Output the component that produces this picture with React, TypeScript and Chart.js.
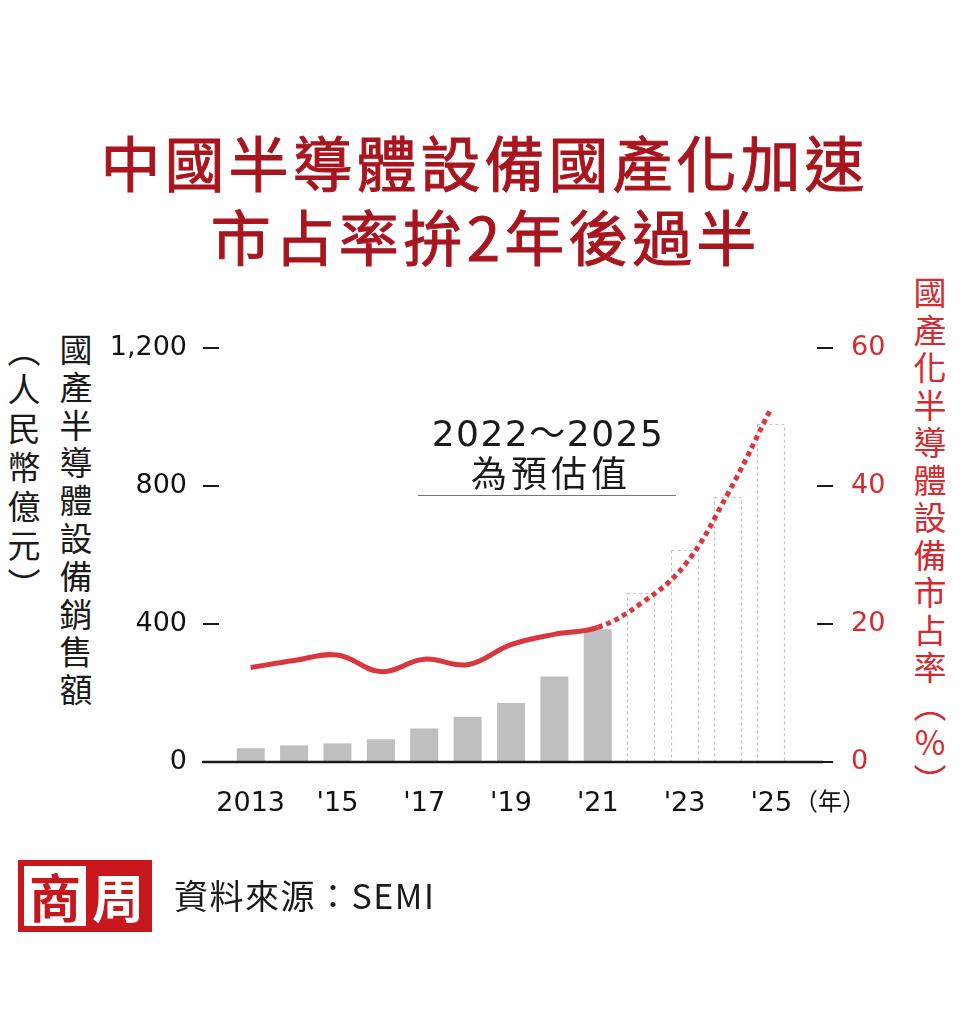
import React, { useEffect, useRef } from "react";
import { Chart, registerables } from "chart.js";

Chart.register(...registerables);

// ---- data ----
const years = ["2013", "2014", "2015", "2016", "2017", "2018", "2019", "2020", "2021", "2022", "2023", "2024", "2025"];
const xTickLabels = ["2013", "", "'15", "", "'17", "", "'19", "", "'21", "", "'23", "", "'25"];
// 國產半導體設備銷售額（人民幣億元）
const sales = [40, 48, 54, 66, 97, 131, 171, 248, 385, 490, 615, 768, 979];
// 國產化半導體設備市占率（%）
const share = [13.7, 14.7, 15.5, 13.1, 14.9, 14.1, 17.0, 18.5, 19.5, 23.0, 28.5, 38.9, 51.3];
const forecastStartIndex = 9; // 2022～2025 為預估值
const leftAxisMax = 1200;
const leftAxisStep = 400;
const rightAxisMax = 60;
const rightAxisStep = 20;

const leftTitle = "國產半導體設備銷售額";
const leftUnit = "（人民幣億元）";
const rightTitle = "國產化半導體設備市占率（％）";

const RED_TITLE = "#a8151f";
const RED = "#d9363e";
const RED_AXIS = "#d42a31";
const CJK = '"Noto Sans CJK TC", "Noto Sans", sans-serif';
const NUM = '"DejaVu Sans", "Noto Sans", sans-serif';

const decorPlugin = {
  id: "decor",
  afterDatasetDraw(chart: any, args: any) {
    if (args.index !== 0) return;
    const ctx = chart.ctx;
    const meta = chart.getDatasetMeta(0);
    ctx.save();
    ctx.setLineDash([3, 3]);
    ctx.strokeStyle = "#c4c4c4";
    ctx.lineWidth = 1.2;
    meta.data.forEach((bar: any, i: number) => {
      if (i < forecastStartIndex) return;
      const p = bar.getProps(["x", "y", "base", "width"], true);
      const l = Math.round(p.x - p.width / 2) + 0.5;
      const r = Math.round(p.x + p.width / 2) - 0.5;
      const t = Math.round(p.y) + 0.5;
      ctx.strokeRect(l, t, r - l, p.base - t);
    });
    ctx.restore();
  },
  afterDraw(chart: any) {
    const ctx = chart.ctx;
    const { left, right } = chart.chartArea;
    const y = chart.scales.y;
    const y1 = chart.scales.y1;
    ctx.save();
    ctx.strokeStyle = "#1a1a1a";
    ctx.lineWidth = 2;
    y.ticks.forEach((t: any) => {
      const py = Math.round(y.getPixelForValue(t.value));
      ctx.beginPath();
      ctx.moveTo(left - 26, py);
      ctx.lineTo(left - 10, py);
      ctx.stroke();
    });
    y1.ticks.forEach((t: any) => {
      const py = Math.round(y1.getPixelForValue(t.value));
      ctx.beginPath();
      ctx.moveTo(right + 24, py);
      ctx.lineTo(right + 40, py);
      ctx.stroke();
    });
    const by = y.getPixelForValue(0);
    ctx.lineWidth = 2.5;
    ctx.beginPath();
    ctx.moveTo(left - 27, by);
    ctx.lineTo(right + 30, by);
    ctx.stroke();
    ctx.restore();
  },
};

function ChartCanvas() {
  const ref = useRef<HTMLCanvasElement | null>(null);
  useEffect(() => {
    if (!ref.current) return;
    const chart = new Chart(ref.current, {
      type: "bar",
      data: {
        labels: years,
        datasets: [
          {
            type: "bar",
            data: sales,
            yAxisID: "y",
            backgroundColor: sales.map((_, i) => (i < forecastStartIndex ? "#bfbfbf" : "rgba(255,255,255,0)")),
            borderWidth: 0,
            barPercentage: 0.645,
            categoryPercentage: 1,
            order: 2,
          } as any,
          {
            type: "line",
            data: share,
            yAxisID: "y1",
            borderColor: RED,
            borderWidth: 5,
            tension: 0.4,
            pointRadius: 0,
            fill: false,
            borderCapStyle: "butt",
            order: 1,
            segment: {
              borderDash: (c: any) => (c.p0DataIndex >= forecastStartIndex - 1 ? [5, 4] : undefined),
            },
          } as any,
        ],
      },
      options: {
        responsive: false,
        animation: false,
        layout: { padding: { top: 48, left: 0, right: 0, bottom: 0 } },
        plugins: { legend: { display: false }, tooltip: { enabled: false } },
        scales: {
          x: {
            grid: { display: false, drawTicks: false },
            border: { display: false },
            ticks: {
              autoSkip: false,
              maxRotation: 0,
              padding: 26,
              color: "#111",
              font: { family: NUM, size: 27 },
              callback: (_v: any, i: number) => xTickLabels[i],
            },
            afterFit: (s: any) => {
              s.height = 98;
              s.paddingLeft = 0;
              s.paddingRight = 0;
            },
          },
          y: {
            position: "left",
            min: 0,
            max: leftAxisMax,
            grid: { display: false, drawTicks: false },
            border: { display: false },
            ticks: {
              stepSize: leftAxisStep,
              padding: 42,
              color: "#111",
              font: { family: NUM, size: 27 },
              callback: (v: any) => Number(v).toLocaleString("en-US"),
            },
            afterFit: (s: any) => {
              s.width = 229;
              s.paddingTop = 0;
              s.paddingBottom = 0;
            },
          },
          y1: {
            position: "right",
            min: 0,
            max: rightAxisMax,
            grid: { display: false, drawTicks: false },
            border: { display: false },
            ticks: {
              stepSize: rightAxisStep,
              padding: 58,
              color: RED_AXIS,
              font: { family: NUM, size: 27 },
            },
            afterFit: (s: any) => {
              s.width = 167;
              s.paddingTop = 0;
              s.paddingBottom = 0;
            },
          },
        },
      } as any,
      plugins: [decorPlugin],
    });
    return () => chart.destroy();
  }, []);
  return <canvas ref={ref} width={960} height={560} style={{ position: "absolute", left: 0, top: 300 }} />;
}

const abs = (o: React.CSSProperties): React.CSSProperties => ({ position: "absolute", whiteSpace: "nowrap", ...o });

function VerticalText({ text, left, top, pitch, size, color }: { text: string; left: number; top: number; pitch: number; size: number; color: string }) {
  return (
    <>
      {Array.from(text).map((ch, i) => (
        <div
          key={i}
          style={abs({
            left,
            top: top + i * pitch,
            width: size + 1,
            height: pitch,
            writingMode: "vertical-rl",
            fontSize: size,
            lineHeight: `${size + 1}px`,
            color,
          })}
        >
          {ch}
        </div>
      ))}
    </>
  );
}

export default function App() {
  return (
    <div style={{ position: "absolute", left: 0, top: 0, width: 960, height: 1031, background: "#fff", overflow: "hidden", fontFamily: CJK }}>
      <div style={abs({ top: 131, left: 0, width: 960, textAlign: "center", fontSize: 60, lineHeight: "60px", fontWeight: 400, color: RED_TITLE, letterSpacing: 4, paddingLeft: 9, boxSizing: "border-box", WebkitTextStroke: "1px " + RED_TITLE })}>
        中國半導體設備國產化加速
      </div>
      <div style={abs({ top: 205, left: 0, width: 960, textAlign: "center", fontSize: 60, lineHeight: "60px", fontWeight: 400, color: RED_TITLE, letterSpacing: 4, paddingLeft: 11, boxSizing: "border-box", WebkitTextStroke: "1px " + RED_TITLE })}>
        市占率拚2年後過半
      </div>

      <VerticalText text={leftTitle} left={59} top={333} pitch={37.8} size={33} color="#1a1a1a" />
      <VerticalText text={leftUnit} left={7} top={334} pitch={39} size={33} color="#1a1a1a" />
      <VerticalText text={rightTitle} left={913} top={276} pitch={37.5} size={33} color={RED_AXIS} />

      <ChartCanvas />

      <div style={abs({ left: 398, top: 416, width: 300, textAlign: "center", fontFamily: NUM + ', "Noto Sans CJK TC"', fontSize: 36, lineHeight: "36px", letterSpacing: 1.5, color: "#1a1a1a" })}>
        2022～2025
      </div>
      <div style={abs({ left: 401, top: 453, width: 300, textAlign: "center", fontSize: 36, lineHeight: "36px", letterSpacing: 4, color: "#1a1a1a" })}>
        為預估值
      </div>
      <div style={abs({ left: 418, top: 495, width: 258, height: 0, borderTop: "1.5px solid #777" })} />

      <div style={abs({ left: 794, top: 788, fontSize: 24, lineHeight: "24px", color: "#111" })}>（年）</div>

      <div style={abs({ left: 18, top: 860, width: 134, height: 72, background: "#c8161d" })}>
        <div style={abs({ left: 6, top: 6, width: 62, height: 60, background: "#fff", color: "#c8161d", fontSize: 52, lineHeight: "60px", fontWeight: 700, textAlign: "center" })}>商</div>
        <div style={abs({ left: 70, top: 6, width: 60, height: 60, color: "#fff", fontSize: 52, lineHeight: "60px", fontWeight: 700, textAlign: "center" })}>周</div>
      </div>
      <div style={abs({ left: 174, top: 878, fontSize: 34, lineHeight: "34px", letterSpacing: 1.5, color: "#1a1a1a" })}>
        資料來源：SEMI
      </div>
    </div>
  );
}
